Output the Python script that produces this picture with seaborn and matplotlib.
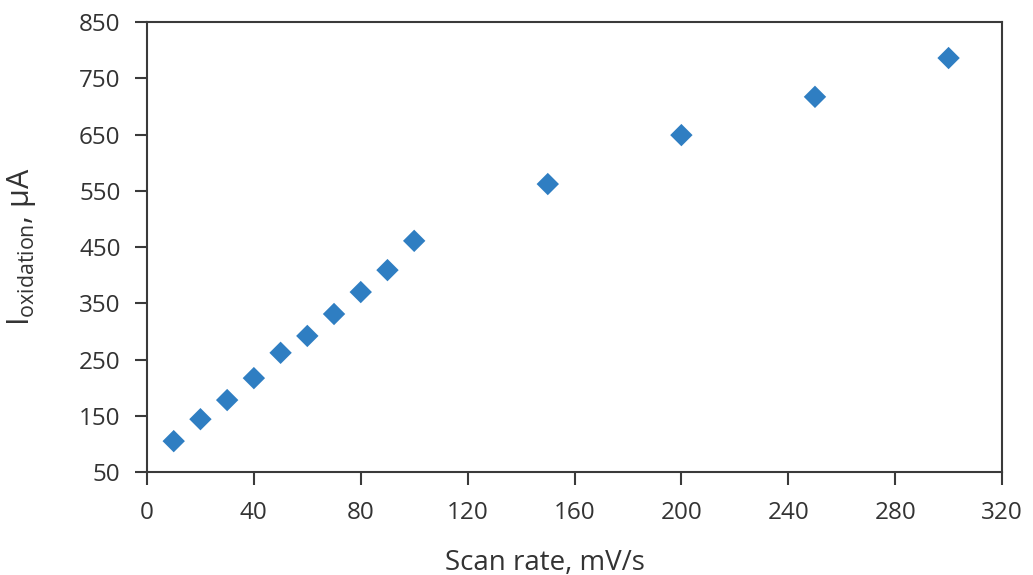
import matplotlib
matplotlib.use("Agg")
import matplotlib.pyplot as plt
import seaborn as sns
import pandas as pd

scan_rate = [10, 20, 30, 40, 50, 60, 70, 80, 90, 100, 150, 200, 250, 300]
i_oxidation = [105, 144, 178, 217, 262, 292, 331, 370, 409, 461, 562, 649, 717, 786]
x_ticks = [0, 40, 80, 120, 160, 200, 240, 280, 320]
y_ticks = [50, 150, 250, 350, 450, 550, 650, 750, 850]

sns.set_theme(style="white")
plt.rcParams['font.family'] = ['Open Sans', 'DejaVu Sans']
plt.rcParams['mathtext.fontset'] = 'custom'
plt.rcParams['mathtext.rm'] = 'Open Sans'
plt.rcParams['mathtext.it'] = 'Open Sans'

df = pd.DataFrame({"x": scan_rate, "y": i_oxidation})

fig = plt.figure(figsize=(10.33, 5.75), dpi=100)
ax = fig.add_axes([0.1423, 0.179, 0.8277, 0.7827])
sns.scatterplot(data=df, x="x", y="y", marker="D", s=130, color="#2F7EC2",
                edgecolor="none", ax=ax)

ax.set_xlim(0, 320)
ax.set_ylim(50, 850)
ax.set_xticks(x_ticks)
ax.set_yticks(y_ticks)
text_color = "#333333"
ax.tick_params(axis="both", direction="out", length=9, width=1.5, color="#3a3a3a",
               labelsize=17.5, labelcolor=text_color, bottom=True, left=True)
ax.tick_params(axis="y", pad=10)
ax.tick_params(axis="x", pad=12)
for sp in ax.spines.values():
    sp.set_color("#3a3a3a")
    sp.set_linewidth(1.5)
    sp.set_visible(True)

ax.set_xlabel("Scan rate, mV/s", fontsize=20, color=text_color, labelpad=16)
ax.xaxis.set_label_coords(0.465, -0.17)
ax.set_ylabel(r"I$_{\mathrm{oxidation}}$, μA", fontsize=22, color=text_color)
ax.yaxis.set_label_coords(-0.128, 0.5)

fig.savefig("out.png", dpi=100)
